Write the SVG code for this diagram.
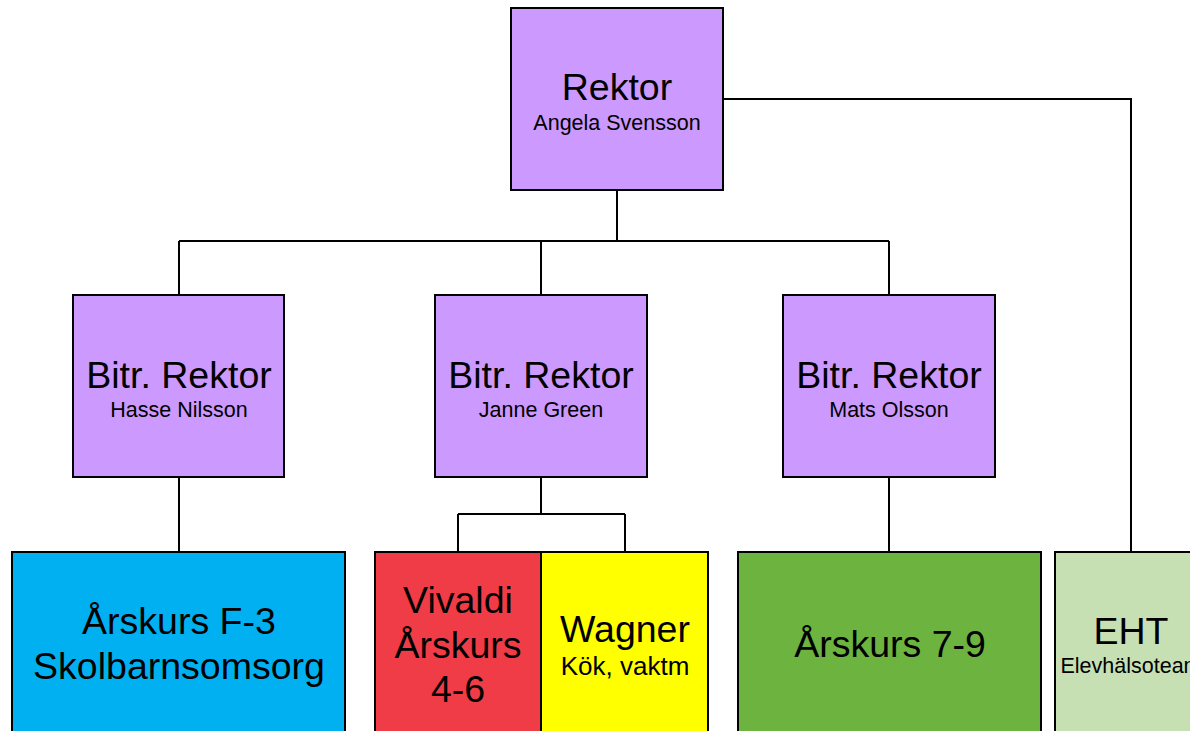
<svg xmlns="http://www.w3.org/2000/svg" width="1190" height="731" viewBox="0 0 1190 731">
<style>
.box{stroke:#000;stroke-width:2}
.big{font-family:"Liberation Sans",Arial,sans-serif;font-size:37.5px;fill:#000;text-anchor:middle}
.small{font-family:"Liberation Sans",Arial,sans-serif;font-size:21.5px;fill:#000;text-anchor:middle}
.conn{fill:none;stroke:#000;stroke-width:2}
</style>
<rect width="1190" height="731" fill="#fff"/>
<g id="connectors">
<path class="conn" d="M617 190V241M179 241H889M179 241V295M541 241V295M889 241V295"/>
<path class="conn" d="M723 99H1131V552"/>
<path class="conn" d="M179 477V552"/>
<path class="conn" d="M541 477V514M458 514H625M458 514V552M625 514V552"/>
<path class="conn" d="M889 477V552"/>
</g>
<g id="rektor">
<rect class="box" x="511" y="8" width="212" height="182" fill="#CC99FF"/>
<text class="big" x="617" y="100">Rektor</text>
<text class="small" x="617" y="130">Angela Svensson</text>
</g>
<g id="bitr1">
<rect class="box" x="73" y="295" width="211" height="182" fill="#CC99FF"/>
<text class="big" x="179" y="388">Bitr. Rektor</text>
<text class="small" x="179" y="417">Hasse Nilsson</text>
</g>
<g id="bitr2">
<rect class="box" x="435" y="295" width="212" height="182" fill="#CC99FF"/>
<text class="big" x="541" y="388">Bitr. Rektor</text>
<text class="small" x="541" y="417">Janne Green</text>
</g>
<g id="bitr3">
<rect class="box" x="783" y="295" width="212" height="182" fill="#CC99FF"/>
<text class="big" x="889" y="388">Bitr. Rektor</text>
<text class="small" x="889" y="417">Mats Olsson</text>
</g>
<g id="f3">
<rect class="box" x="12" y="552" width="333" height="200" fill="#00B0F0"/>
<text class="big" x="179" y="634">Årskurs F-3</text>
<text class="big" x="179" y="679">Skolbarnsomsorg</text>
</g>
<g id="vivaldi">
<rect class="box" x="375" y="552" width="166" height="200" fill="#F03C46"/>
<text class="big" x="458" y="613">Vivaldi</text>
<text class="big" x="458" y="658">Årskurs</text>
<text class="big" x="458" y="702">4-6</text>
</g>
<g id="wagner">
<rect class="box" x="541" y="552" width="167" height="200" fill="#FFFF00"/>
<text class="big" x="625" y="642">Wagner</text>
<text class="small" x="625" y="675" style="font-size:26px">Kök, vaktm</text>
</g>
<g id="ak79">
<rect class="box" x="738" y="552" width="303" height="200" fill="#6DB33F"/>
<text class="big" x="890" y="657">Årskurs 7-9</text>
</g>
<g id="eht">
<rect class="box" x="1055" y="552" width="152" height="200" fill="#C6E0B4"/>
<text class="big" x="1131" y="644">EHT</text>
<text class="small" x="1131" y="673">Elevhälsoteam</text>
</g>
</svg>
